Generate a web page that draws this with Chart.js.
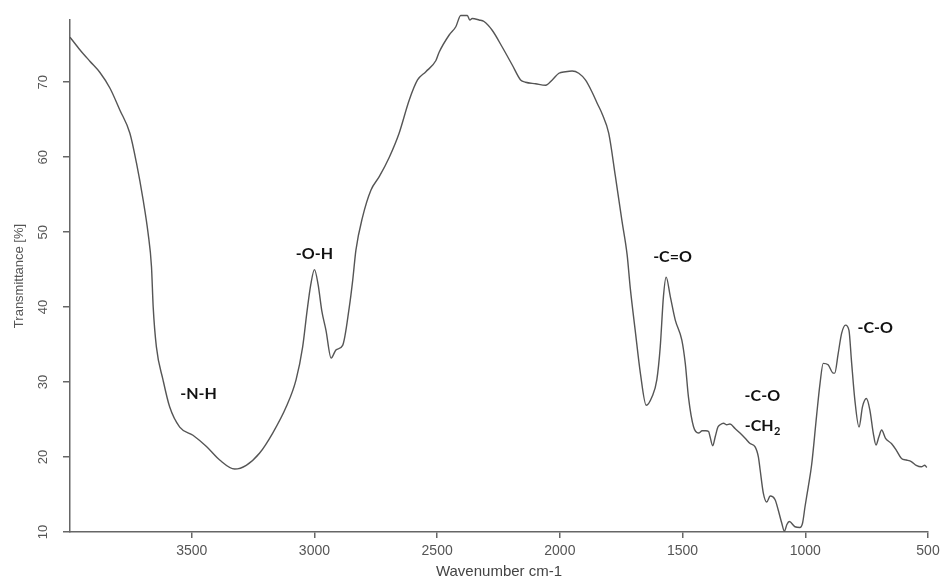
<!DOCTYPE html>
<html>
<head>
<meta charset="utf-8">
<script src="https://cdn.jsdelivr.net/npm/chart.js@4.4.1/dist/chart.umd.min.js"></script>
<style>
  html, body { margin: 0; padding: 0; background: #fff; }
  canvas { display: block; }
</style>
</head>
<body>
<canvas id="ir" width="945" height="579"></canvas>
<script>
// FTIR spectrum, values

const wavenumbers = [
  3996, 3955, 3915, 3874, 3833, 3793, 3752, 3725, 3698, 3678, 3664, 3657, 3644, 3617, 3590,
  3549, 3495, 3440, 3386, 3325, 3278, 3224, 3170, 3115, 3075, 3048, 3030, 3015, 3000, 2985,
  2970, 2953, 2932, 2912, 2885, 2858, 2844, 2831, 2804, 2770, 2736, 2695, 2655, 2614, 2580,
  2546, 2505, 2492, 2451, 2424, 2404, 2377, 2367, 2357, 2329, 2309, 2275, 2235, 2194, 2160,
  2140, 2099, 2058, 2031, 2004, 1977, 1950, 1923, 1896, 1869, 1848, 1828, 1801, 1774, 1747,
  1726, 1713, 1693, 1672, 1648, 1625, 1605, 1591, 1578, 1567, 1550, 1530, 1503, 1489, 1476,
  1455, 1435, 1420, 1405, 1394, 1388, 1377, 1367, 1356, 1347, 1333, 1320, 1307, 1286, 1266,
  1245, 1225, 1205, 1191, 1184, 1171, 1157, 1143, 1123, 1110, 1096, 1085, 1075, 1065, 1042,
  1022, 1011, 1001, 988, 974, 954, 940, 927, 907, 886, 880, 866, 852, 836, 822,
  812, 798, 781, 767, 751, 737, 723, 712, 700, 689, 673, 649, 629, 608, 588,
  568, 548, 527, 513, 505
];

const transmittance = [
  76.0, 74.3, 72.8, 71.3, 69.2, 66.3, 63.2, 59.2, 54.3, 49.9, 45.4, 40.0, 34.7, 30.3, 26.7,
  24.0, 22.9, 21.4, 19.6, 18.4, 18.9, 20.5, 23.2, 26.7, 30.3, 34.7, 39.5, 43.0, 45.0, 43.0,
  39.5, 36.9, 33.2, 34.3, 34.9, 40.0, 43.6, 47.6, 52.0, 55.6, 57.4, 60.0, 63.2, 67.6, 70.3,
  71.4, 72.9, 74.0, 76.3, 77.4, 78.9, 78.9, 78.3, 78.5, 78.3, 78.1, 76.9, 74.7, 72.3, 70.3,
  70.0, 69.8, 69.6, 70.3, 71.2, 71.4, 71.5, 71.2, 70.3, 68.7, 67.2, 65.8, 63.2, 57.5, 51.5,
  47.0, 42.5, 36.9, 31.2, 26.9, 28.0, 30.3, 34.7, 41.4, 44.0, 41.4, 38.3, 35.6, 32.5, 28.0,
  24.0, 23.2, 23.5, 23.5, 23.4, 22.7, 21.5, 22.7, 24.0, 24.3, 24.5, 24.3, 24.4, 23.8, 23.2,
  22.5, 21.8, 21.4, 20.0, 18.3, 15.2, 14.0, 14.8, 14.3, 12.9, 11.2, 10.1, 11.0, 11.4, 10.7,
  10.6, 11.2, 13.4, 16.0, 19.0, 25.5, 29.8, 32.5, 32.3, 31.2, 31.2, 33.8, 36.5, 37.6, 36.9,
  32.9, 27.6, 24.0, 26.7, 27.8, 26.3, 23.2, 21.6, 22.7, 23.6, 22.5, 21.8, 20.9, 19.8, 19.6,
  19.4, 18.9, 18.7, 18.9, 18.6
];

const xTicks = [3500, 3000, 2500, 2000, 1500, 1000, 500];
const yTicks = [10, 20, 30, 40, 50, 60, 70];

// band labels, anchored in data units (wavenumber, transmittance)
const bandLabels = [
  { text: '-N-H', sub: '', wn: 3472, t: 28.4 },
  { text: '-O-H', sub: '', wn: 3000, t: 47.1 },
  { text: '-C=O', sub: '', wn: 1541, t: 46.7 },
  { text: '-C-O', sub: '', wn: 1175, t: 28.1 },
  { text: '-CH', sub: '2', wn: 1175, t: 24.1 },
  { text: '-C-O', sub: '', wn: 715, t: 37.3 }
];

const points = wavenumbers.map((w, i) => ({ x: w, y: transmittance[i] }));

const axisGrey = '#666';
const textGrey = '#555';
const fontFamily = '"Liberation Sans", Arial, sans-serif';

const bandLabelPlugin = {
  id: 'bandLabels',
  afterDatasetsDraw(chart) {
    const { ctx, scales } = chart;
    ctx.save();
    ctx.fillStyle = '#111';
    ctx.textBaseline = 'middle';
    ctx.textAlign = 'left';
    bandLabels.forEach(b => {
      const px = scales.x.getPixelForValue(b.wn);
      const py = scales.y.getPixelForValue(b.t);
      ctx.font = 'bold 16px Lato, "Open Sans", sans-serif';
      const w1 = ctx.measureText(b.text).width;
      ctx.font = 'bold 11px Lato, "Open Sans", sans-serif';
      const w2 = b.sub ? ctx.measureText(b.sub).width : 0;
      const x0 = px - (w1 + w2) / 2;
      ctx.font = 'bold 16px Lato, "Open Sans", sans-serif';
      ctx.fillText(b.text, x0, py);
      if (b.sub) {
        ctx.font = 'bold 11px Lato, "Open Sans", sans-serif';
        ctx.fillText(b.sub, x0 + w1 + 0.5, py + 5);
      }
    });
    ctx.restore();
  }
};

new Chart(document.getElementById('ir'), {
  type: 'line',
  data: {
    datasets: [{
      data: points,
      borderColor: '#555',
      borderWidth: 1.4,
      pointRadius: 0,
      fill: false,
      cubicInterpolationMode: 'monotone',
      clip: false
    }]
  },
  options: {
    responsive: false,
    animation: false,
    layout: { padding: { top: 20, right: 17, left: 0, bottom: 0 } },
    plugins: {
      legend: { display: false },
      tooltip: { enabled: false }
    },
    scales: {
      x: {
        type: 'linear',
        reverse: true,
        min: 500,
        max: 3996,
        afterBuildTicks: s => { s.ticks = xTicks.map(v => ({ value: v })); },
        afterFit: s => { s.height = 47; },
        border: { display: true, color: axisGrey, width: 1.5 },
        grid: { drawOnChartArea: false, drawTicks: true, tickLength: 6, tickColor: axisGrey, lineWidth: 1.5 },
        ticks: {
          color: textGrey,
          padding: 5,
          maxRotation: 0,
          callback: v => String(v),
          font: { family: fontFamily, size: 14 }
        },
        title: {
          display: true,
          text: 'Wavenumber cm-1',
          color: '#444',
          padding: { top: 0, bottom: 0 },
          font: { family: fontFamily, size: 15, lineHeight: 1 }
        }
      },
      y: {
        type: 'linear',
        min: 10,
        max: 78.3,
        afterBuildTicks: s => { s.ticks = yTicks.map(v => ({ value: v })); },
        afterFit: s => { s.width = 70; },
        border: { display: true, color: axisGrey, width: 1.5 },
        grid: { drawOnChartArea: false, drawTicks: true, tickLength: 7, tickColor: axisGrey, lineWidth: 1.5 },
        ticks: {
          color: textGrey,
          padding: 12,
          minRotation: 90,
          maxRotation: 90,
          crossAlign: 'center',
          callback: v => String(v),
          font: { family: fontFamily, size: 13 }
        },
        title: {
          display: true,
          text: 'Transmittance [%]',
          color: textGrey,
          padding: { top: 12, bottom: 0 },
          font: { family: fontFamily, size: 13 }
        }
      }
    }
  },
  plugins: [bandLabelPlugin]
});
</script>
</body>
</html>
